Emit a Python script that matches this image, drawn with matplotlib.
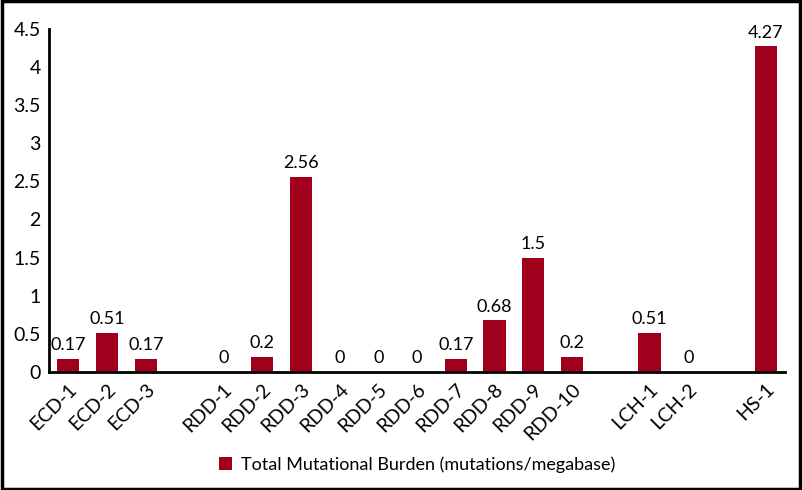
import numpy as np
import matplotlib.pyplot as plt

plt.rcParams['font.family'] = ['Lato', 'DejaVu Sans']

# groups of samples, one empty slot is left between groups
ecd_labels = ['ECD-1', 'ECD-2', 'ECD-3']
ecd_values = [0.17, 0.51, 0.17]
rdd_labels = ['RDD-1', 'RDD-2', 'RDD-3', 'RDD-4', 'RDD-5', 'RDD-6', 'RDD-7',
              'RDD-8', 'RDD-9', 'RDD-10']
rdd_values = [0, 0.2, 2.56, 0, 0, 0, 0.17, 0.68, 1.5, 0.2]
lch_labels = ['LCH-1', 'LCH-2']
lch_values = [0.51, 0]
hs_labels = ['HS-1']
hs_values = [4.27]

groups = [(ecd_labels, ecd_values), (rdd_labels, rdd_values),
          (lch_labels, lch_values), (hs_labels, hs_values)]

labels = []
values = []
positions = []
pos = 0
for lab, val in groups:
    for l, v in zip(lab, val):
        labels.append(l)
        values.append(v)
        positions.append(pos)
        pos += 1
    pos += 1  # empty slot between groups
n_slots = pos - 1

color = '#A0001C'

fig = plt.figure(figsize=(8.02, 4.90), dpi=100)
ax = fig.add_axes([0.061, 0.241, 0.918, 0.700])

bars = ax.bar(positions, values, width=0.57, color=color,
              label='Total Mutational Burden (mutations/megabase)')

for x, v in zip(positions, values):
    ax.annotate(f'{v:g}', (x, v), xytext=(0, 4), textcoords='offset points',
                ha='center', va='bottom', fontsize=13)

ax.set_xlim(-0.5, n_slots - 0.5)
ax.set_ylim(0, 4.5)
ax.set_yticks(np.arange(0, 4.51, 0.5))
ax.set_yticklabels(['0', '0.5', '1', '1.5', '2', '2.5', '3', '3.5', '4', '4.5'])
ax.set_xticks(positions)
ax.set_xticklabels(labels, rotation=45, ha='right', rotation_mode='anchor')
ax.tick_params(axis='both', length=0, labelsize=14)
ax.tick_params(axis='x', pad=6)
ax.tick_params(axis='y', pad=6)

for s in ['top', 'right']:
    ax.spines[s].set_visible(False)
ax.spines['left'].set_linewidth(2)
ax.spines['bottom'].set_linewidth(2)

fig.legend(handles=[bars], labels=[bars.get_label()], loc='center',
           bbox_to_anchor=(0.52, 0.052), frameon=False, fontsize=13,
           handlelength=0.7, handleheight=0.7, handletextpad=0.5)

# frame around the whole figure
fig.add_artist(plt.Rectangle((0.002, 0.003), 0.996, 0.994, fill=False,
                             edgecolor='black', linewidth=2.5,
                             transform=fig.transFigure))

fig.savefig('out.png', dpi=100)
